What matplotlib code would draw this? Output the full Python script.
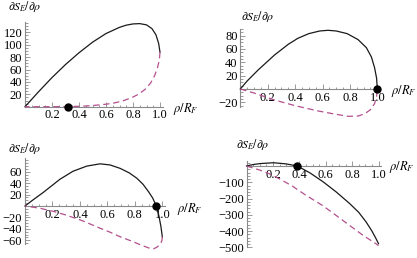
import matplotlib
matplotlib.use("Agg")
import matplotlib.pyplot as plt
from matplotlib.ticker import FixedLocator

plt.rcParams["font.family"] = "serif"
plt.rcParams["font.serif"] = ["Liberation Serif", "DejaVu Serif"]
plt.rcParams["mathtext.fontset"] = "stix"

# datos (rho/R_F, dS_E/drho)
p1_solid_x = [0, 0.1, 0.2, 0.3, 0.4, 0.5, 0.6, 0.7, 0.75, 0.8, 0.85, 0.9, 0.94, 0.97, 0.99, 1.0]
p1_solid_y = [0, 24, 47, 68, 87, 104, 118, 128, 131.5, 133.5, 134, 132, 126, 116, 102, 88]
p1_dash_x = [1.0, 0.995, 0.98, 0.96, 0.93, 0.89, 0.84, 0.79, 0.72, 0.66, 0.6, 0.54, 0.48, 0.42, 0.35, 0.2, 0]
p1_dash_y = [88, 75, 62, 50, 38, 28, 20, 14.5, 9, 6, 4, 2.7, 1.5, 0.8, 0.3, 0, 0]
p1_dot = (0.32, 0)

p2_solid_x = [0, 0.05, 0.13, 0.25, 0.35, 0.42, 0.5, 0.58, 0.64, 0.7, 0.78, 0.86, 0.92, 0.957, 0.98, 0.995, 1.0]
p2_solid_y = [0, 12, 28.5, 51, 67, 76, 83, 87, 88, 87, 83, 74, 62, 48, 32, 16, 0]
p2_dash_x = [0, 0.1, 0.25, 0.4, 0.57, 0.7, 0.79, 0.86, 0.91, 0.95, 0.98, 0.995, 1.0]
p2_dash_y = [0, -6, -16.5, -25, -33, -38, -41, -40.5, -37, -31, -22, -11, 0]
p2_dot = (1.0, 0)

p3_solid_x = [0, 0.06, 0.134, 0.255, 0.35, 0.45, 0.547, 0.62, 0.693, 0.76, 0.815, 0.86, 0.9, 0.93, 0.956, 0.975, 0.99, 1.0]
p3_solid_y = [0, 11, 24, 47, 61, 70, 74, 72, 66, 58, 48.6, 38, 25, 14, 0, -17, -36, -54]
p3_dash_x = [1.0, 0.998, 0.99, 0.98, 0.96, 0.936, 0.9, 0.84, 0.77, 0.693, 0.62, 0.547, 0.42, 0.3, 0.2, 0.11, 0]
p3_dash_y = [-54, -60, -64.5, -68, -72.5, -75, -73.5, -68, -61, -54, -46, -39, -26, -16, -9, -4, 0]
p3_dot = (0.956, 0)

p4_solid_x = [0, 0.05, 0.105, 0.205, 0.3, 0.385, 0.48, 0.58, 0.68, 0.78, 0.85, 0.905, 0.95, 0.98, 1.0]
p4_solid_y = [0, 9, 15, 20, 13, 0, -42, -97, -160, -230, -285, -343, -400, -445, -478]
p4_dash_x = [0, 0.1, 0.18, 0.27, 0.35, 0.45, 0.58, 0.68, 0.78, 0.88, 0.98, 1.0]
p4_dash_y = [0, -25, -50, -88, -125, -180, -245, -305, -365, -425, -478, -490]
p4_dot = (0.385, 0)

x_ticks = [0.2, 0.4, 0.6, 0.8, 1.0]
x_labels = ["0.2", "0.4", "0.6", "0.8", "1.0"]
p1_yticks = [20, 40, 60, 80, 100, 120]
p2_yticks = [-20, 20, 40, 60, 80]
p3_yticks = [-60, -40, -20, 20, 40, 60]
p4_yticks = [-500, -400, -300, -200, -100]

W, H = 417, 258
fig = plt.figure(figsize=(W / 100, H / 100), dpi=100)

solid_col = "#1a1a1a"
dash_col = "#b4508e"
axis_col = "#8a8a8a"


def panel(x0, xs, y0, ys, ylim, ybounds, ytk, yminor, sx, sy, dx, dy, dot, lab_y, lab_x):
    xlim = (-0.03, 1.04)
    left = x0 + xlim[0] * xs
    width = (xlim[1] - xlim[0]) * xs
    top = y0 - ylim[1] * ys
    height = (ylim[1] - ylim[0]) * ys
    ax = fig.add_axes([left / W, (H - top - height) / H, width / W, height / H])
    ax.set_xlim(xlim)
    ax.set_ylim(ylim)
    ax.patch.set_visible(False)
    for s in ["top", "right"]:
        ax.spines[s].set_visible(False)
    ax.spines["left"].set_position(("data", 0))
    ax.spines["bottom"].set_position(("data", 0))
    ax.spines["left"].set_bounds(*ybounds)
    ax.spines["bottom"].set_bounds(0, 1.02)
    for s in ["left", "bottom"]:
        ax.spines[s].set_color(axis_col)
        ax.spines[s].set_linewidth(0.8)
    ax.xaxis.set_major_locator(FixedLocator(x_ticks))
    ax.xaxis.set_minor_locator(FixedLocator([i * 0.05 for i in range(1, 21)]))
    ax.yaxis.set_major_locator(FixedLocator(ytk))
    lo, hi = ybounds
    mn = [v for v in range(int(lo) - int(lo) % yminor, int(hi) + 1, yminor) if lo <= v <= hi and v != 0]
    ax.yaxis.set_minor_locator(FixedLocator(mn))
    ax.tick_params(which="both", direction="in", color=axis_col, width=0.6, labelsize=9, pad=2)
    ax.tick_params(which="major", length=3.5)
    ax.tick_params(which="minor", length=1.8)
    ax.set_xticklabels(x_labels)
    ax.plot(sx, sy, color=solid_col, lw=0.9, clip_on=False, zorder=3)
    ax.plot(dx, dy, color=dash_col, lw=0.9, ls=(0, (5, 3)), clip_on=False, zorder=3)
    ax.plot(*dot, "o", color="black", ms=5, clip_on=False, zorder=4)
    fig.text(lab_y[0] / W, 1 - lab_y[1] / H, r"$\partial S_E/\partial\rho$", fontsize=8.5,
             ha="left", va="center")
    fig.text(lab_x[0] / W, 1 - lab_x[1] / H, r"$\rho/R_F$", fontsize=9,
             ha="left", va="center")
    return ax


panel(25, 135, 106.7, 0.62, (-4, 137), (0, 136), p1_yticks, 5,
      p1_solid_x, p1_solid_y, p1_dash_x, p1_dash_y, p1_dot, (8, 7), (173, 109))
panel(240.3, 137, 89, 0.667, (-44, 92), (-27, 90), p2_yticks, 5,
      p2_solid_x, p2_solid_y, p2_dash_x, p2_dash_y, p2_dot, (241, 16), (391, 91))
panel(25, 137.3, 206, 0.57, (-78, 86), (-67, 84), p3_yticks, 5,
      p3_solid_x, p3_solid_y, p3_dash_x, p3_dash_y, p3_dot, (8, 148), (177, 209))
panel(246.5, 132, 166, 0.1625, (-505, 36), (-500, 33), p4_yticks, 20,
      p4_solid_x, p4_solid_y, p4_dash_x, p4_dash_y, p4_dot, (236, 144), (389, 167))

fig.savefig("out.png", dpi=100)
